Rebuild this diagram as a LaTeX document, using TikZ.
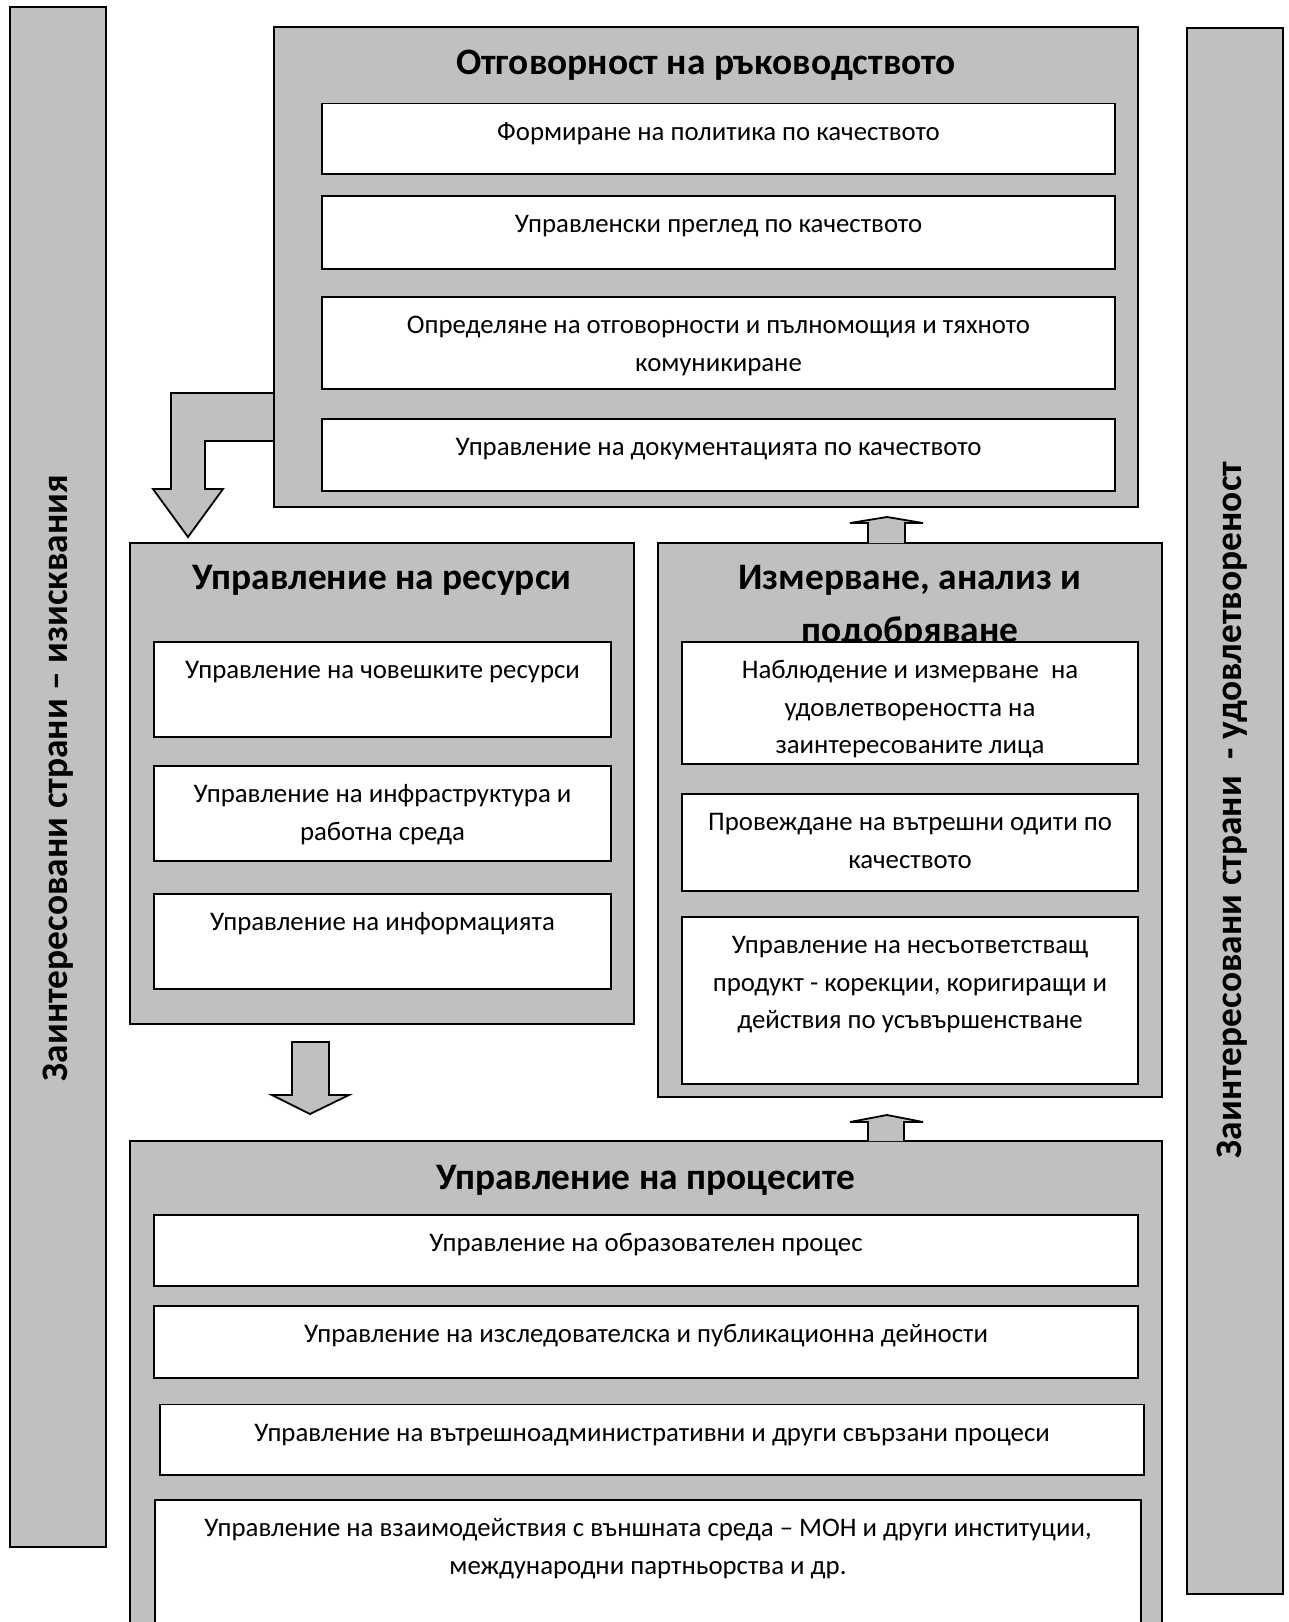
\documentclass[tikz,border=0pt]{standalone}
\usepackage{fontspec}
\setmainfont{Carlito}
\definecolor{boxgray}{RGB}{192,192,192}
\newcommand\myS{\rule{0pt}{20.5pt}}
\newcommand\myT{\rule{0pt}{29pt}}
\begin{document}
\begin{tikzpicture}[x=1pt,y=-1pt,
  graybox/.style={draw=black, line width=2pt, fill=boxgray, inner sep=0pt, outer sep=0pt, anchor=north west},
  whitebox/.style={draw=black, line width=1.8pt, fill=white, inner sep=0pt, outer sep=0pt, anchor=north west},
  blockarrow/.style={draw=black, line width=1.8pt, fill=boxgray, line join=miter},
  ttl/.style={font=\fontsize{37.4}{52.5}\selectfont\bfseries, inner sep=0pt, anchor=north, align=center},
  sidetxt/.style={font=\fontsize{37.4}{44}\selectfont\bfseries, inner sep=0pt, anchor=center, rotate=90},
  txt/.style={font=\fontsize{26.8}{37.5}\selectfont, inner sep=0pt, anchor=north, align=center},
]
\useasboundingbox (0,0) rectangle (1289,1622);
\clip (0,0) rectangle (1289,1622);

% side bars
\node[graybox, minimum width=96pt, minimum height=1540pt] (lbar) at (10,7) {};
\node[graybox, minimum width=96pt, minimum height=1566pt] (rbar) at (1187,28) {};
\node[sidetxt] (ltxt) at (lbar.center |- 0,778) {Заинтересовани страни – изисквания};
\node[sidetxt] (rtxt) at (1232,810) {Заинтересовани страни\ \ - удовлетвореност};

% L-shaped arrow from top box to resources
\draw[blockarrow] (274,393) -- (171,393) -- (171,489) -- (153,489) -- (188,537) -- (223,489) -- (205,489) -- (205,441) -- (274,441);

% top box
\node[graybox, minimum width=864pt, minimum height=480pt] (top) at (274,27) {};
\node[ttl] (toptitle) at (706,45) {\myT Отговорност на ръководството};
\node[whitebox, minimum width=793pt, minimum height=70.5pt] (t1) at (322,103.5) {};
\node[whitebox, minimum width=793pt, minimum height=73pt] (t2) at (322,196) {};
\node[whitebox, minimum width=793pt, minimum height=92pt] (t3) at (322,297) {};
\node[whitebox, minimum width=793pt, minimum height=72pt] (t4) at (322,419) {};
\node[txt] (t1t) at (718.5,119.5) {\myS Формиране на политика по качеството};
\node[txt] (t2t) at (718.5,212) {\myS Управленски преглед по качеството};
\node[txt] (t3t) at (718.5,313) {\myS Определяне на отговорности и пълномощия и тяхното\\комуникиране};
\node[txt] (t4t) at (718.5,435) {\myS Управление на документацията по качеството};

% resources box
\node[graybox, minimum width=504pt, minimum height=481pt] (res) at (130,543) {};
\node[ttl] (restitle) at (382,560.5) {\myT Управление на ресурси};
\node[whitebox, minimum width=457pt, minimum height=95pt] (r1) at (154,642) {};
\node[whitebox, minimum width=457pt, minimum height=95pt] (r2) at (154,766) {};
\node[whitebox, minimum width=457pt, minimum height=95pt] (r3) at (154,894) {};
\node[txt] (r1t) at (382.5,658) {\myS Управление на човешките ресурси};
\node[txt] (r2t) at (382.5,782) {\myS Управление на инфраструктура и\\работна среда};
\node[txt] (r3t) at (382.5,910) {\myS Управление на информацията};

% measurement box
\node[graybox, minimum width=504pt, minimum height=554pt] (mea) at (658,543) {};
\node[ttl] (meatitle) at (910,560.5) {\myT Измерване, анализ и\\подобряване};
\node[whitebox, minimum width=456pt, minimum height=122pt] (m1) at (682,642) {};
\node[whitebox, minimum width=456pt, minimum height=97pt] (m2) at (682,794) {};
\node[whitebox, minimum width=456pt, minimum height=167pt] (m3) at (682,917) {};
\node[txt] (m1t) at (910,658) {\myS Наблюдение и измерване\ \ на\\удовлетвореността на\\заинтересованите лица};
\node[txt] (m2t) at (910,810) {\myS Провеждане на вътрешни одити по\\качеството};
\node[txt] (m3t) at (910,933) {\myS Управление на несъответстващ\\продукт - корекции, коригиращи и\\действия по усъвършенстване};

% processes box
\node[graybox, minimum width=1032pt, minimum height=520pt] (pro) at (130,1141) {};
\node[ttl] (protitle) at (646,1160) {\myT Управление на процесите};
\node[whitebox, minimum width=984pt, minimum height=71pt] (p1) at (154,1215) {};
\node[whitebox, minimum width=984pt, minimum height=72pt] (p2) at (154,1306) {};
\node[whitebox, minimum width=984pt, minimum height=70.5pt] (p3) at (160,1404.5) {};
\node[whitebox, minimum width=986pt, minimum height=160pt] (p4) at (155,1500) {};
\node[txt] (p1t) at (646,1231) {\myS Управление на образователен процес};
\node[txt] (p2t) at (646,1322) {\myS Управление на изследователска и публикационна дейности};
\node[txt] (p3t) at (652,1420.5) {\myS Управление на вътрешноадминистративни и други свързани процеси};
\node[txt] (p4t) at (648,1516) {\myS Управление на взаимодействия с външната среда – МОН и други институции,\\международни партньорства и др.};

% block arrows
\draw[blockarrow] (868,543) -- (868,523) -- (850,523) -- (887,517) -- (923,523) -- (905,523) -- (905,543);
\draw[blockarrow] (292,1042) -- (329,1042) -- (329,1095) -- (349,1095) -- (310,1114) -- (272,1095) -- (292,1095) -- cycle;
\draw[blockarrow] (868,1141) -- (868,1122) -- (850,1122) -- (887,1115) -- (923,1122) -- (904,1122) -- (904,1141);
\end{tikzpicture}
\end{document}
